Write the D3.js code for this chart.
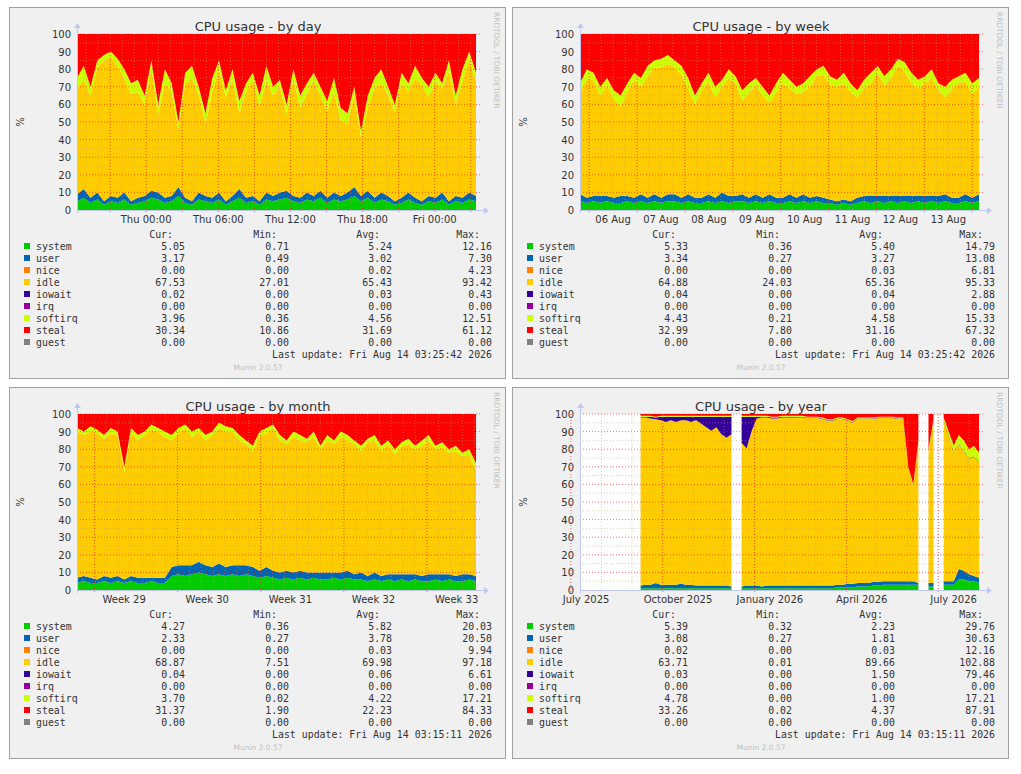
<!DOCTYPE html>
<html><head><meta charset="utf-8">
<script src="https://cdn.jsdelivr.net/npm/d3@7"></script>
<style>body{margin:0;background:#fff}text{font-family:"DejaVu Sans",sans-serif}text.mono{font-family:"DejaVu Sans Mono",monospace}</style>
</head><body><svg id="c" width="1021" height="774"></svg>
<script>
const names = ['system','user','nice','idle','iowait','irq','softirq','steal','guest'];
const colors = ['#00cc00','#0066b3','#ff8000','#ffcc00','#330099','#990099','#ccff00','#ff0000','#808080'];

// by day
const daySys = [5,7,4,6,3,5,4,6,3,4,5,7,6,4,5,8,4,3,6,5,4,6,3,5,7,4,5,3,6,5,6,7,5,4,6,5,7,4,6,5,6,8,5,7,4,6,5,3,4,6,4,3,5,4,6,3,5,4,6,5];
const dayUsr = [4,5,3,4,2,3,3,4,2,3,3,4,4,3,3,5,3,2,4,3,3,4,2,3,5,3,3,2,4,3,4,4,3,3,4,3,4,3,4,3,4,5,3,4,3,4,3,2,3,4,3,2,3,3,4,2,3,3,4,3];
const daySoft = [6,8,5,4,3,3,4,5,6,7,5,4,6,8,5,4,6,7,5,6,8,5,4,6,7,5,4,6,8,5,4,6,5,7,6,4,5,6,8,7,6,5,4,7,6,8,5,4,6,5,7,4,6,5,3,6,5,7,4,5];
const daySteal = [25,18,30,15,12,10,14,20,28,26,35,15,40,20,28,50,22,18,30,45,25,15,32,20,38,28,22,35,18,30,26,40,20,35,28,22,30,38,25,42,45,30,55,35,25,20,30,40,22,28,18,25,30,22,28,15,35,20,10,22];
// by week
const weekSys = [5,4,5,4,5,4,4,5,4,5,4,5,4,5,5,4,5,4,4,5,4,5,4,5,5,4,5,4,5,4,4,5,4,5,4,5,4,4,3,4,3,4,5,4,5,4,5,4,5,4,5,4,5,4,5,4,4,5,4,5];
const weekUsr = [4,3,3,4,3,3,4,3,3,4,3,4,3,4,4,3,4,3,3,4,3,5,4,3,4,3,4,3,4,3,3,4,3,4,3,3,3,2,2,2,2,3,3,4,3,4,3,4,3,4,3,4,3,4,4,3,3,4,3,4];
const weekSoft = [5,6,4,5,4,5,6,5,4,5,6,4,5,5,4,5,6,5,4,5,6,4,5,4,6,5,4,5,4,5,6,5,4,5,6,4,5,5,4,6,5,4,5,6,4,5,5,4,5,6,5,4,5,4,6,5,4,5,6,5];
const weekSteal = [28,20,22,30,25,32,35,28,22,25,18,15,14,12,15,18,25,35,28,22,30,26,20,24,32,28,25,30,35,28,22,26,30,28,24,20,18,24,26,22,28,32,26,22,18,24,20,14,16,22,26,24,20,28,30,26,24,22,28,25];
// by month
const monthSys = [4,5,4,4,5,4,5,4,5,4,4,5,4,4,8,9,8,9,10,9,8,9,8,9,8,9,8,7,8,7,6,7,6,7,6,7,6,6,7,6,7,6,6,5,6,5,6,5,6,5,6,5,5,6,5,6,5,5,6,5];
const monthUsr = [3,3,3,2,3,3,3,2,3,3,3,2,3,3,5,5,6,5,6,5,5,6,5,5,6,5,5,4,5,4,4,4,4,4,4,3,4,4,3,4,4,3,4,3,4,3,3,4,3,4,3,3,4,3,4,3,3,4,3,3];
const monthSoft = [2,2,3,2,2,3,2,3,2,3,2,3,2,3,3,3,2,3,2,3,2,3,3,2,3,2,3,2,3,2,3,2,3,3,2,3,2,3,2,3,3,2,3,2,3,3,2,3,2,3,2,3,3,2,3,2,3,2,3,4];
const monthSteal = [8,10,7,9,12,8,10,30,8,12,10,6,8,10,12,8,6,10,8,12,10,5,7,8,12,15,18,10,8,6,12,15,10,12,14,10,18,12,15,10,12,15,18,14,12,18,15,20,16,14,18,15,12,18,16,20,18,22,20,28];
// by year (null = no data)
const _ = null;
const yearSys = [_,_,_,_,_,_,_,_,_,_,_,_,1,1,1,1,1,1,1,1,1,1,1,1,1,1,1,1,1,1,1,_,1,1,1,1,1,1,1,1,1,1,1,1,1,1,1,1,1,1,1,1.5,1.5,1.5,1.5,2,2,2,2.5,2.5,3,3,3,3,3,3,3,3,_,2,2,_,3,3,3,6,6,5,5,4];
const yearUsr = [_,_,_,_,_,_,_,_,_,_,_,_,1.5,2,2,3,2,2,2,2,2.5,2,2,1.5,1.5,1.5,1.5,1.5,1.5,1.5,1,_,1,1.5,1.5,1.5,1,1.5,1.5,1.5,1.5,1.5,1.5,1.5,1.5,1.5,1.5,1.5,1.5,1.5,1.5,1.5,1.5,2,2,2,2,2,2,2,2,2,2,2,2,2,2,1,_,2,2,_,2,2,2,6,5,4,3,3];
const yearIowait = [_,_,_,_,_,_,_,_,_,_,_,_,0.5,0.5,1,1,2,3,2,3,2,2,3,2,4,6,8,6,10,12,10,_,15,18,8,1,0.5,0.5,0.5,0.5,0.5,0.5,0.5,0.5,0.3,0.3,0.3,0.3,0.3,0.3,0.3,0.3,0.3,0.3,0.3,0.3,0.3,0.3,0.3,0.3,0.3,0.3,0.3,0.3,0.3,0.3,0.3,0.3,_,0.3,0.3,_,0.3,0.3,0.3,0.3,0.3,0.3,0.3,0.3];
const yearSoft = [_,_,_,_,_,_,_,_,_,_,_,_,0.5,0.5,0.5,0.5,0.5,0.5,0.5,0.5,0.5,0.5,0.5,0.5,0.5,0.5,0.5,0.5,0.5,0.5,0.5,_,0.5,0.5,0.5,0.5,0.5,0.5,0.5,0.5,0.5,0.5,0.5,0.5,0.5,0.5,0.5,0.5,0.5,0.5,0.5,0.5,0.5,0.5,0.5,0.5,0.5,0.5,0.5,0.5,0.5,0.5,0.5,0.5,0.5,0.5,1,1,_,1,1,_,1,2,3,5,6,5,6,5];
const yearSteal = [_,_,_,_,_,_,_,_,_,_,_,_,1,1,1,1.5,1,1,1,1,1,1,1,1,1,1,1,1,1,1,1,_,1,1,1,1,1,1,1.5,1.5,1,1,1,1,1,1.5,1.5,1.5,2,3,3,2,2,3,4,2,2,2,2,1.5,1.5,1.5,1.5,2,2,30,40,15,_,20,3,_,2,10,18,12,15,20,18,22];

// legend statistics: cur, min, avg, max for each series
const dayStats = [[5.05,0.71,5.24,12.16],[3.17,0.49,3.02,7.30],[0,0,0.02,4.23],[67.53,27.01,65.43,93.42],[0.02,0,0.03,0.43],[0,0,0,0],[3.96,0.36,4.56,12.51],[30.34,10.86,31.69,61.12],[0,0,0,0]];
const weekStats = [[5.33,0.36,5.40,14.79],[3.34,0.27,3.27,13.08],[0,0,0.03,6.81],[64.88,24.03,65.36,95.33],[0.04,0,0.04,2.88],[0,0,0,0],[4.43,0.21,4.58,15.33],[32.99,7.80,31.16,67.32],[0,0,0,0]];
const monthStats = [[4.27,0.36,5.82,20.03],[2.33,0.27,3.78,20.50],[0,0,0.03,9.94],[68.87,7.51,69.98,97.18],[0.04,0,0.06,6.61],[0,0,0,0],[3.70,0.02,4.22,17.21],[31.37,1.90,22.23,84.33],[0,0,0,0]];
const yearStats = [[5.39,0.32,2.23,29.76],[3.08,0.27,1.81,30.63],[0.02,0,0.03,12.16],[63.71,0.01,89.66,102.88],[0.03,0,1.50,79.46],[0,0,0,0],[4.78,0,1.00,17.21],[33.26,0.02,4.37,87.91],[0,0,0,0]];

const dayTicks = [0,6,12,18,24], dayLabels = ['Thu 00:00','Thu 06:00','Thu 12:00','Thu 18:00','Fri 00:00'];
const weekTicks = [0.5,1.5,2.5,3.5,4.5,5.5,6.5,7.5], weekLabels = ['06 Aug','07 Aug','08 Aug','09 Aug','10 Aug','11 Aug','12 Aug','13 Aug'];
const monthTicks = [2.5,9.5,16.5,23.5,30.5], monthLabels = ['Week 29','Week 30','Week 31','Week 32','Week 33'];
const yearTicks = [0.5,3.5,6.5,9.5,12.5], yearLabels = ['July 2025','October 2025','January 2026','April 2026','July 2026'];

const svg = d3.select('#c');

function panel(o) {
  const g = svg.append('g').attr('transform', `translate(${o.x},${o.y})`);
  g.append('rect').attr('x', 0.5).attr('y', 0.5).attr('width', 496).attr('height', 371)
    .attr('fill', '#f0f0f0').attr('stroke', '#a0a0a0');
  const L = 68, R = 467, T = 27, B = 203;
  const x = d3.scaleLinear().domain(o.domain).range([L, R]);
  const y = d3.scaleLinear().domain([0, 100]).range([B, T]);
  g.append('rect').attr('x', L).attr('y', T).attr('width', R - L).attr('height', B - T).attr('fill', '#fff');

  const n = o.sys.length;
  const step = (o.domain[1] - o.domain[0]) / (n - 1);
  const rows = d3.range(n).map(i => {
    const ok = o.sys[i] != null;
    const io = o.io ? o.io[i] : 0;
    const v = [o.sys[i], o.usr[i], 0, 0, io, 0, o.soft[i], o.steal[i], 0];
    if (ok) v[3] = 100 - d3.sum(v);
    return { t: o.domain[0] + step * i, ok, v };
  });
  const stack = names.map((nm, k) => rows.map(r => {
    const lo = d3.sum(r.v.slice(0, k));
    return { t: r.t, ok: r.ok, y0: lo, y1: lo + r.v[k] };
  }));
  const area = d3.area().defined(d => d.ok)
    .x(d => x(d.t)).y0(d => y(d.y0)).y1(d => y(d.y1));
  stack.forEach((s, k) => {
    g.append('path').attr('d', area(s)).attr('fill', colors[k]);
  });

  // grid
  const grid = g.append('g').attr('fill', 'none');
  d3.range(5, 100, 10).forEach(v => grid.append('line').attr('x1', L).attr('x2', R)
    .attr('y1', y(v)).attr('y2', y(v)).attr('stroke', '#c8a070').attr('stroke-opacity', 0.5).attr('stroke-dasharray', '1,2'));
  d3.range(10, 101, 10).forEach(v => grid.append('line').attr('x1', L).attr('x2', R + 4)
    .attr('y1', y(v)).attr('y2', y(v)).attr('stroke', '#ff0000').attr('stroke-opacity', 0.55).attr('stroke-dasharray', '1,2'));
  o.minor.forEach(t => grid.append('line').attr('x1', x(t)).attr('x2', x(t))
    .attr('y1', T).attr('y2', B).attr('stroke', '#c8a070').attr('stroke-opacity', 0.5).attr('stroke-dasharray', '1,2'));
  o.major.forEach(t => grid.append('line').attr('x1', x(t)).attr('x2', x(t))
    .attr('y1', T).attr('y2', B + 3).attr('stroke', '#ff0000').attr('stroke-opacity', 0.55).attr('stroke-dasharray', '1,2'));

  // axes
  g.append('line').attr('x1', L).attr('x2', R + 8).attr('y1', B + 0.5).attr('y2', B + 0.5).attr('stroke', '#c0c8f0');
  g.append('line').attr('x1', L + 0.5).attr('x2', L + 0.5).attr('y1', T - 6).attr('y2', B + 3).attr('stroke', '#c0c8f0');
  g.append('path').attr('d', `M${R + 8},${B - 3}L${R + 13},${B + 0.5}L${R + 8},${B + 4}Z`).attr('fill', '#c0c8f0');
  g.append('path').attr('d', `M${L - 3},${T - 6}L${L + 0.5},${T - 11}L${L + 4},${T - 6}Z`).attr('fill', '#c0c8f0');

  const yAxis = g.append('g').attr('font-size', 10).attr('fill', '#333').attr('text-anchor', 'end');
  d3.range(0, 101, 10).forEach(v => yAxis.append('text').attr('x', L - 6).attr('y', y(v) + 4).text(v));
  const xAxis = g.append('g').attr('font-size', 10).attr('fill', '#333').attr('text-anchor', 'middle');
  o.ticks.forEach((t, i) => xAxis.append('text').attr('x', x(t)).attr('y', B + 13).text(o.labels[i]));

  g.append('text').attr('x', 249).attr('y', 24).attr('text-anchor', 'middle').attr('font-size', 13).attr('fill', '#333').text(o.title);
  g.append('text').attr('transform', 'translate(15,115) rotate(-90)').attr('text-anchor', 'middle').attr('font-size', 10).attr('fill', '#333').text('%');
  g.append('text').attr('transform', 'translate(485,5) rotate(90)').attr('font-size', 7.5).attr('fill', '#c0c0c0').text('RRDTOOL / TOBI OETIKER');

  // legend
  const leg = g.append('g').attr('font-size', 9.9).attr('fill', '#333');
  const cols = [176, 280, 383, 483];
  ['Cur:', 'Min:', 'Avg:', 'Max:'].forEach((h, j) => leg.append('text').attr('class', 'mono').attr('x', cols[j] - 12).attr('y', 231).attr('text-anchor', 'end').text(h));
  names.forEach((nm, k) => {
    const yy = 243 + 12 * k;
    leg.append('rect').attr('x', 15).attr('y', yy - 7).attr('width', 6).attr('height', 6).attr('fill', colors[k]);
    leg.append('text').attr('class', 'mono').attr('x', 27).attr('y', yy).text(nm);
    o.stats[k].forEach((v, j) => leg.append('text').attr('class', 'mono').attr('x', cols[j]).attr('y', yy).attr('text-anchor', 'end').text(v.toFixed(2)));
  });
  leg.append('text').attr('class', 'mono').attr('x', 483).attr('y', 351).attr('text-anchor', 'end').text('Last update: ' + o.update);
  g.append('text').attr('x', 249).attr('y', 363).attr('text-anchor', 'middle').attr('font-size', 7.5).attr('fill', '#c0c0c0').text('Munin 2.0.57');
}

panel({ x: 9, y: 7, title: 'CPU usage - by day', domain: [-5.75, 27.43],
  sys: daySys, usr: dayUsr, soft: daySoft, steal: daySteal, stats: dayStats,
  ticks: dayTicks, labels: dayLabels, major: [-3, 0, 3, 6, 9, 12, 15, 18, 21, 24, 27],
  minor: d3.range(-5, 28, 1), update: 'Fri Aug 14 03:25:42 2026' });
panel({ x: 512, y: 7, title: 'CPU usage - by week', domain: [-0.19, 8.14],
  sys: weekSys, usr: weekUsr, soft: weekSoft, steal: weekSteal, stats: weekStats,
  ticks: weekTicks, labels: weekLabels, major: d3.range(0, 9), minor: d3.range(0, 8.1, 0.25),
  update: 'Fri Aug 14 03:25:42 2026' });
panel({ x: 9, y: 387, title: 'CPU usage - by month', domain: [-1.47, 32.13],
  sys: monthSys, usr: monthUsr, soft: monthSoft, steal: monthSteal, stats: monthStats,
  ticks: monthTicks, labels: monthLabels, major: [0, 7, 14, 21, 28], minor: d3.range(-1, 33, 1),
  update: 'Fri Aug 14 03:15:11 2026' });
panel({ x: 512, y: 387, title: 'CPU usage - by year', domain: [0.3, 13.33],
  sys: yearSys, usr: yearUsr, io: yearIowait, soft: yearSoft, steal: yearSteal, stats: yearStats,
  ticks: yearTicks, labels: yearLabels, major: [0, 3, 6, 9, 12], minor: d3.range(1, 13.5, 1),
  update: 'Fri Aug 14 03:15:11 2026' });
</script></body></html>
